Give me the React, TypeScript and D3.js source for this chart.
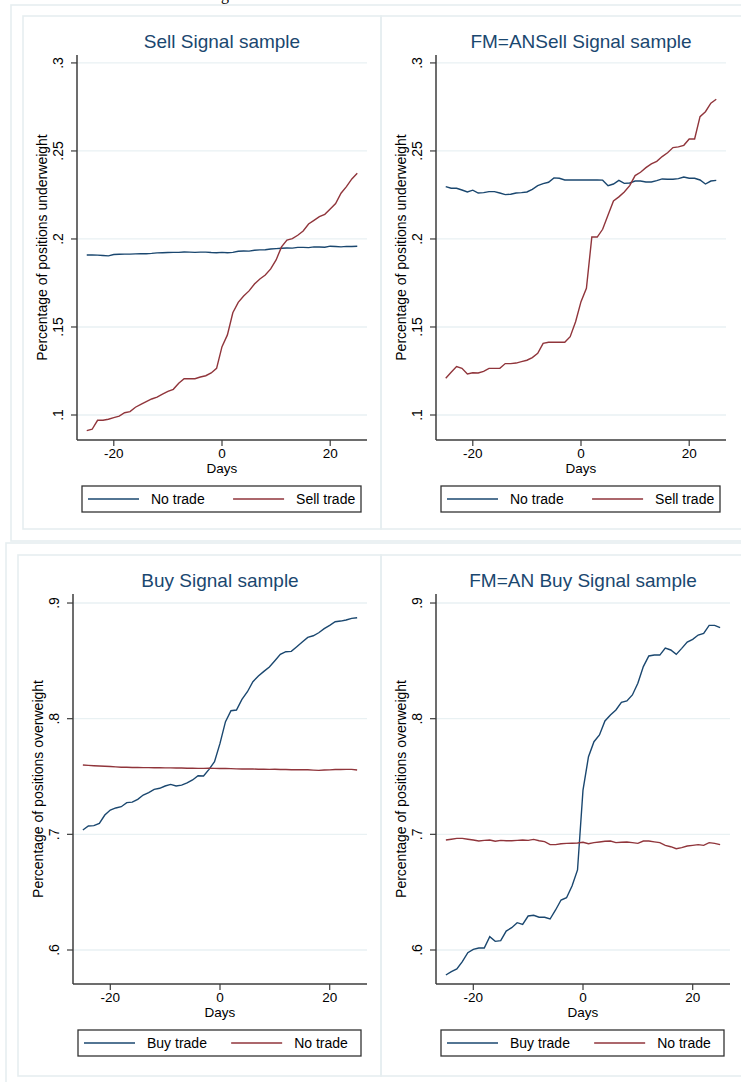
import * as d3 from "d3";

// event-time axis, days around the signal
const days = d3.range(-25, 26);
const xDomain: [number, number] = [-26.8, 26.8];
const xTicks = [-20, 0, 20];

const sellYDomain: [number, number] = [0.0858, 0.3045];
const sellTicks = [0.1, 0.15, 0.2, 0.25, 0.3];
const sellTickLabels = [".1", ".15", ".2", ".25", ".3"];

const buyYDomain: [number, number] = [0.5706, 0.9078];
const buyTicks = [0.6, 0.7, 0.8, 0.9];
const buyTickLabels = [".6", ".7", ".8", ".9"];

// Sell Signal sample
const sellNoTrade = [
  0.1909, 0.1909, 0.1908, 0.1906, 0.1904, 0.1912, 0.1913, 0.1914, 0.1914, 0.1915,
  0.1916, 0.1916, 0.1918, 0.1921, 0.1922, 0.1923, 0.1924, 0.1924, 0.1926, 0.1925,
  0.1924, 0.1925, 0.1925, 0.1923, 0.1922, 0.1924, 0.1922, 0.1924, 0.193, 0.1932,
  0.1931, 0.1936, 0.1938, 0.1939, 0.1943, 0.1945, 0.1947, 0.1949, 0.1948, 0.1952,
  0.1952, 0.1951, 0.1955, 0.1954, 0.1953, 0.1959, 0.1957, 0.1955, 0.1958, 0.1957,
  0.1959,
];
const sellSellTrade = [
  0.0911, 0.0919, 0.097, 0.097, 0.0976, 0.0985, 0.0994, 0.1013, 0.1019, 0.1044,
  0.1061, 0.1076, 0.1091, 0.1102, 0.1118, 0.1134, 0.1146, 0.118, 0.1206, 0.1206,
  0.1206, 0.1216, 0.1223, 0.1239, 0.1265, 0.1388, 0.1455, 0.1581, 0.164, 0.1676,
  0.1705, 0.1744, 0.1773, 0.1795, 0.183, 0.1881, 0.1955, 0.1994, 0.2002, 0.2021,
  0.2045, 0.2085, 0.2106, 0.2127, 0.214, 0.217, 0.2201, 0.226, 0.2297, 0.2341,
  0.2373,
];

// FM=AN Sell Signal sample
const anSellNoTrade = [
  0.2297, 0.2288, 0.2288, 0.2278, 0.2267, 0.2277, 0.2261, 0.2263, 0.2269, 0.2269,
  0.2261, 0.2252, 0.2254, 0.2261, 0.2263, 0.2267, 0.2282, 0.2303, 0.2314, 0.2322,
  0.2347, 0.2345, 0.2335, 0.2335, 0.2335, 0.2335, 0.2335, 0.2335, 0.2335, 0.2334,
  0.2303, 0.2312, 0.2333, 0.2316, 0.2318, 0.2329, 0.2329, 0.2324, 0.2324, 0.2331,
  0.2341, 0.2339, 0.2339, 0.2343, 0.2352, 0.2345, 0.2345, 0.2335, 0.2312, 0.2329,
  0.2333,
];
const anSellSellTrade = [
  0.1209, 0.1243, 0.1275, 0.1265, 0.1233, 0.124, 0.1239, 0.1248, 0.1265, 0.1265,
  0.1265, 0.1292, 0.1292, 0.1295, 0.1303, 0.1311, 0.1326, 0.135, 0.1407, 0.1413,
  0.1413, 0.1413, 0.1413, 0.1445, 0.153, 0.1644, 0.172, 0.2011, 0.2011, 0.2055,
  0.2136, 0.2216, 0.2239, 0.2267, 0.2303, 0.236, 0.2379, 0.2405, 0.2426, 0.2441,
  0.2468, 0.249, 0.2519, 0.2523, 0.2532, 0.2568, 0.2568, 0.2695, 0.2723, 0.2771,
  0.2794,
];

// Buy Signal sample
const buyBuyTrade = [
  0.7037, 0.7072, 0.7075, 0.7095, 0.7167, 0.721, 0.7228, 0.7239, 0.7274, 0.7278,
  0.7303, 0.734, 0.736, 0.7389, 0.7398, 0.7418, 0.7432, 0.7418, 0.7426, 0.7444,
  0.747, 0.7507, 0.7504, 0.7562, 0.7628, 0.7786, 0.7974, 0.8069, 0.8075, 0.8167,
  0.8233, 0.832, 0.8369, 0.8409, 0.8447, 0.8501, 0.8556, 0.8579, 0.8582, 0.8622,
  0.8663, 0.8703, 0.8717, 0.8743, 0.8778, 0.8807, 0.8838, 0.8844, 0.8853, 0.8867,
  0.8873,
];
const buyNoTrade = [
  0.7599, 0.7596, 0.7593, 0.7591, 0.7589, 0.7587, 0.7583, 0.758, 0.758, 0.7578,
  0.7578, 0.7577, 0.7577, 0.7576, 0.7576, 0.7575, 0.7575, 0.7574, 0.7573, 0.7572,
  0.7571, 0.757, 0.757, 0.7571, 0.757, 0.7569, 0.757, 0.7568, 0.7566, 0.7565,
  0.7566, 0.7565, 0.7563, 0.7563, 0.7562, 0.7563, 0.7561, 0.756, 0.7559, 0.7559,
  0.7558, 0.7558, 0.7555, 0.7553, 0.7556, 0.7557, 0.756, 0.7561, 0.7562, 0.7562,
  0.7556,
];

// FM=AN Buy Signal sample
const anBuyBuyTrade = [
  0.5784, 0.5813, 0.5836, 0.5899, 0.5977, 0.6006, 0.6017, 0.6017, 0.6115, 0.6075,
  0.6081, 0.6164, 0.6193, 0.6236, 0.6222, 0.6294, 0.63, 0.6283, 0.6283, 0.6268,
  0.6346, 0.6432, 0.6452, 0.6553, 0.6692, 0.7383, 0.7671, 0.7801, 0.7859, 0.798,
  0.8032, 0.8075, 0.8141, 0.8153, 0.8205, 0.8306, 0.845, 0.8542, 0.855, 0.855,
  0.8611, 0.8594, 0.8556, 0.8608, 0.8663, 0.8686, 0.8723, 0.8738, 0.8807, 0.8807,
  0.8787,
];
const anBuyNoTrade = [
  0.6951, 0.6958, 0.6965, 0.6965, 0.6958, 0.6951, 0.6942, 0.6948, 0.6951, 0.694,
  0.6948, 0.6945, 0.6945, 0.6948, 0.6951, 0.6948, 0.6956, 0.6945, 0.6937, 0.6911,
  0.6911, 0.6919, 0.6922, 0.6923, 0.6925, 0.6931, 0.6919, 0.6928, 0.6934, 0.694,
  0.6942, 0.6928, 0.6931, 0.6934, 0.6928, 0.6922, 0.6942, 0.6942, 0.6935, 0.6928,
  0.6905, 0.6893, 0.6876, 0.6885, 0.6899, 0.6905, 0.6911, 0.6905, 0.6928, 0.6922,
  0.6911,
];

const NAVY = "#1a476f";
const MAROON = "#90353b";
const FRAME = "#e6eef0";
const GRID = "#e9f1f3";
const FONT = "'Liberation Sans', Arial, sans-serif";

type Series = { name: string; color: string; values: number[] };
type Box = { left: number; right: number; top: number; bottom: number };

const Panel = ({ box, title, yTitle, yDomain, yTicks, yTickLabels, series }: {
  box: Box; title: string; yTitle: string; yDomain: [number, number];
  yTicks: number[]; yTickLabels: string[]; series: Series[];
}) => {
  const x = d3.scaleLinear().domain(xDomain).range([box.left, box.right]);
  const y = d3.scaleLinear().domain(yDomain).range([box.bottom, box.top]);
  const line = d3.line<number>().x((_, i) => x(days[i])).y((v) => y(v));

  const legX = box.left + 5;
  const legW = box.right - box.left - 11;
  const legY = box.bottom + 46;
  const legH = 26;
  const midY = (box.top + box.bottom) / 2;

  return (
    <g fontFamily={FONT}>
      <text x={(box.left + box.right) / 2} y={box.top - 7} textAnchor="middle" fontSize={19} fill={NAVY}>
        {title}
      </text>
      {yTicks.map((t) => (
        <line key={"g" + t} x1={box.left} x2={box.right} y1={y(t)} y2={y(t)} stroke={GRID} strokeWidth={1.3} />
      ))}
      {series.map((s) => (
        <path key={s.name} d={line(s.values) ?? ""} fill="none" stroke={s.color} strokeWidth={1.4} />
      ))}
      {/* y axis */}
      <line x1={box.left} x2={box.left} y1={box.top} y2={box.bottom} stroke="#3c3c3c" strokeWidth={1.5} />
      {yTicks.map((t, i) => (
        <g key={"y" + t}>
          <line x1={box.left - 6} x2={box.left} y1={y(t)} y2={y(t)} stroke="#3c3c3c" strokeWidth={1.2} />
          <text transform={`translate(${box.left - 19},${y(t)}) rotate(-90)`} textAnchor="middle" dy="0.35em" fontSize={14}>
            {yTickLabels[i]}
          </text>
        </g>
      ))}
      <text transform={`translate(${box.left - 35},${midY}) rotate(-90)`} textAnchor="middle" dy="0.35em" fontSize={14}>
        {yTitle}
      </text>
      {/* x axis */}
      <line x1={box.left} x2={box.right} y1={box.bottom} y2={box.bottom} stroke="#3c3c3c" strokeWidth={1.5} />
      {xTicks.map((t) => (
        <g key={"x" + t}>
          <line x1={x(t)} x2={x(t)} y1={box.bottom} y2={box.bottom + 6} stroke="#3c3c3c" strokeWidth={1.2} />
          <text x={x(t)} y={box.bottom + 18} textAnchor="middle" fontSize={13.5}>{t}</text>
        </g>
      ))}
      <text x={(box.left + box.right) / 2} y={box.bottom + 33} textAnchor="middle" fontSize={13.5}>Days</text>
      {/* legend */}
      <rect x={legX} y={legY} width={legW} height={legH} fill="white" stroke="#333" strokeWidth={1.3} />
      {series.map((s, i) => {
        const cx = legX + 6 + i * legW * 0.52;
        return (
          <g key={"l" + s.name}>
            <line x1={cx} x2={cx + 51} y1={legY + legH / 2} y2={legY + legH / 2} stroke={s.color} strokeWidth={1.4} />
            <text x={cx + 63} y={legY + legH / 2} dy="0.35em" fontSize={14}>{s.name}</text>
          </g>
        );
      })}
    </g>
  );
};

export default function App() {
  return (
    <svg width={741} height={1082} style={{ position: "absolute", left: 0, top: 0, background: "white" }}>
      <text x={225} y={-0.5} textAnchor="middle" fontFamily="'Liberation Serif', serif" fontSize={16}>g</text>
      {/* frames of the two combined graphs */}
      <rect x={11} y={5} width={760} height={536} fill="none" stroke={FRAME} strokeWidth={1.6} />
      <rect x={23} y={16} width={358} height={513} fill="none" stroke={FRAME} strokeWidth={1.6} />
      <rect x={381} y={16} width={400} height={513} fill="none" stroke={FRAME} strokeWidth={1.6} />
      <rect x={6} y={543} width={760} height={560} fill="none" stroke={FRAME} strokeWidth={1.6} />
      <rect x={18} y={555} width={363} height={521} fill="none" stroke={FRAME} strokeWidth={1.6} />
      <rect x={381} y={555} width={400} height={521} fill="none" stroke={FRAME} strokeWidth={1.6} />

      <Panel
        box={{ left: 77, right: 367, top: 55, bottom: 440 }}
        title="Sell Signal sample"
        yTitle="Percentage of positions underweight"
        yDomain={sellYDomain}
        yTicks={sellTicks}
        yTickLabels={sellTickLabels}
        series={[
          { name: "No trade", color: NAVY, values: sellNoTrade },
          { name: "Sell trade", color: MAROON, values: sellSellTrade },
        ]}
      />
      <Panel
        box={{ left: 436, right: 726, top: 55, bottom: 440 }}
        title="FM=ANSell Signal sample"
        yTitle="Percentage of positions underweight"
        yDomain={sellYDomain}
        yTicks={sellTicks}
        yTickLabels={sellTickLabels}
        series={[
          { name: "No trade", color: NAVY, values: anSellNoTrade },
          { name: "Sell trade", color: MAROON, values: anSellSellTrade },
        ]}
      />
      <Panel
        box={{ left: 73, right: 367, top: 594, bottom: 984 }}
        title="Buy Signal sample"
        yTitle="Percentage of positions overweight"
        yDomain={buyYDomain}
        yTicks={buyTicks}
        yTickLabels={buyTickLabels}
        series={[
          { name: "Buy trade", color: NAVY, values: buyBuyTrade },
          { name: "No trade", color: MAROON, values: buyNoTrade },
        ]}
      />
      <Panel
        box={{ left: 436, right: 730, top: 594, bottom: 984 }}
        title="FM=AN Buy Signal sample"
        yTitle="Percentage of positions overweight"
        yDomain={buyYDomain}
        yTicks={buyTicks}
        yTickLabels={buyTickLabels}
        series={[
          { name: "Buy trade", color: NAVY, values: anBuyBuyTrade },
          { name: "No trade", color: MAROON, values: anBuyNoTrade },
        ]}
      />
    </svg>
  );
}
